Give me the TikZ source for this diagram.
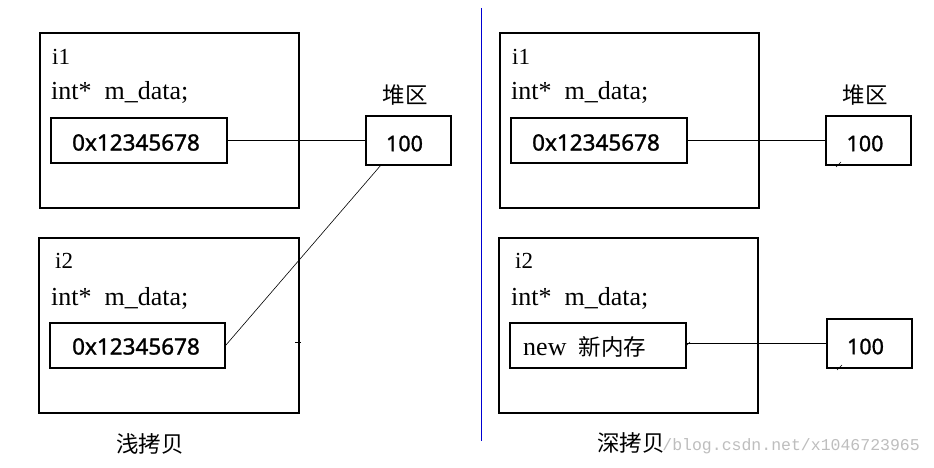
\documentclass[tikz,border=0pt]{standalone}
\usepackage{fontspec}
\setmainfont{Liberation Serif}
\newfontfamily\cjk{Noto Sans CJK SC}
\newfontfamily\sansf[FakeBold=1.2]{Noto Sans}
\newfontfamily\monof{Liberation Mono}
\definecolor{divblue}{RGB}{0,0,210}
\definecolor{wmgray}{RGB}{190,190,190}
\begin{document}
\begin{tikzpicture}[x=1pt,y=-1pt,
  box/.style={draw, line width=1.1pt, inner sep=0pt},
  conn/.style={draw, line width=0.9pt},
  lbl/.style={anchor=base west, inner sep=0pt, font=\fontsize{26}{31}\selectfont},
  idl/.style={anchor=base west, inner sep=0pt, font=\fontsize{23}{27}\selectfont},
  addr/.style={inner sep=0pt, font=\sansf\fontsize{22.5}{27}\selectfont},
  heapv/.style={inner sep=0pt, font=\sansf\fontsize{21.5}{26}\selectfont},
  cjkl/.style={inner sep=0pt, font=\cjk\fontsize{22.5}{27}\selectfont}]
\useasboundingbox (0,0) rectangle (934,468);
\fill[white] (0,0) rectangle (934,468);

% divider
\draw[line width=1.2pt, divblue] (481.5,8) -- (481.5,441);

% ===== left (shallow copy) =====
\node[box, minimum width=259pt, minimum height=175pt] (L1) at (169.5,120.5) {};
\node[idl] (L1n) at (52,65) {i1};
\node[lbl] (L1t) at (51,100) {int*\ \ m\_data;};
\node[box, minimum width=176pt, minimum height=45pt] (L1in) at (139,140.5) {};
\node[addr] (L1a) at (136,142.5) {0x12345678};
\node[box, minimum width=85pt, minimum height=49pt] (LH1) at (408.5,140.5) {};
\node[heapv] (LH1v) at (404.5,143.5) {100};
\node[cjkl] (LHl) at (405,95) {堆区};

\node[box, minimum width=260pt, minimum height=175pt] (L2) at (169,325.5) {};
\node[idl] (L2n) at (55,268) {i2};
\node[lbl] (L2t) at (51,305) {int*\ \ m\_data;};
\node[box, minimum width=175pt, minimum height=45pt] (L2in) at (137.5,345.5) {};
\node[addr] (L2a) at (136,346.5) {0x12345678};

\node[cjkl] (Lcap) at (150,444) {浅拷贝};

\draw[conn] (L1in.east) -- (LH1.west |- L1in.east);
\coordinate (Ld) at (381,165);
\draw[line width=0.6pt] (L2in.east) -- (Ld);
\coordinate (Lt1) at (295,342);
\coordinate (Lt2) at (301,342);
\draw[line width=0.8pt] (Lt1) -- (Lt2);

% ===== right (deep copy) =====
\node[anchor=base east, inner sep=0pt, text=wmgray, font=\monof\fontsize{16.5}{19}\selectfont] (wm) at (920,450) {/blog.csdn.net/x1046723965};

\node[box, minimum width=259pt, minimum height=175pt] (R1) at (629.5,120.5) {};
\node[idl] (R1n) at (512,65) {i1};
\node[lbl] (R1t) at (511,100) {int*\ \ m\_data;};
\node[box, minimum width=176pt, minimum height=45pt] (R1in) at (599,140.5) {};
\node[addr] (R1a) at (596,142.5) {0x12345678};
\node[box, minimum width=85pt, minimum height=49pt] (RH1) at (868.5,140.5) {};
\node[heapv] (RH1v) at (865,143.5) {100};
\node[cjkl] (RHl) at (865,95) {堆区};

\node[box, minimum width=259pt, minimum height=175pt] (R2) at (628.5,325.5) {};
\node[idl] (R2n) at (515,268) {i2};
\node[lbl] (R2t) at (511,305) {int*\ \ m\_data;};
\node[box, minimum width=176pt, minimum height=45pt] (R2in) at (598,345.5) {};
\node[lbl] (R2x) at (523,355) {new\hspace{12pt}{\cjk\fontsize{22.5}{27}\selectfont 新内存}};
\node[box, minimum width=85pt, minimum height=49pt] (RH2) at (869.5,343.5) {};
\node[heapv] (RH2v) at (865.5,346.5) {100};

\node[cjkl] (Rcap) at (631,443) {深拷贝};

\draw[conn] (R1in.east) -- (RH1.west |- R1in.east);
\draw[conn] (R2in.east |- RH2.west) -- (RH2.west);

% small pen marks
\coordinate (m1a) at (836,167); \coordinate (m1b) at (841,162);
\coordinate (m2a) at (837,370); \coordinate (m2b) at (842,365);
\coordinate (m3a) at (686,346); \coordinate (m3b) at (690,342);
\draw[line width=0.5pt] (m1a) -- (m1b) (m2a) -- (m2b) (m3a) -- (m3b);
\end{tikzpicture}
\end{document}
